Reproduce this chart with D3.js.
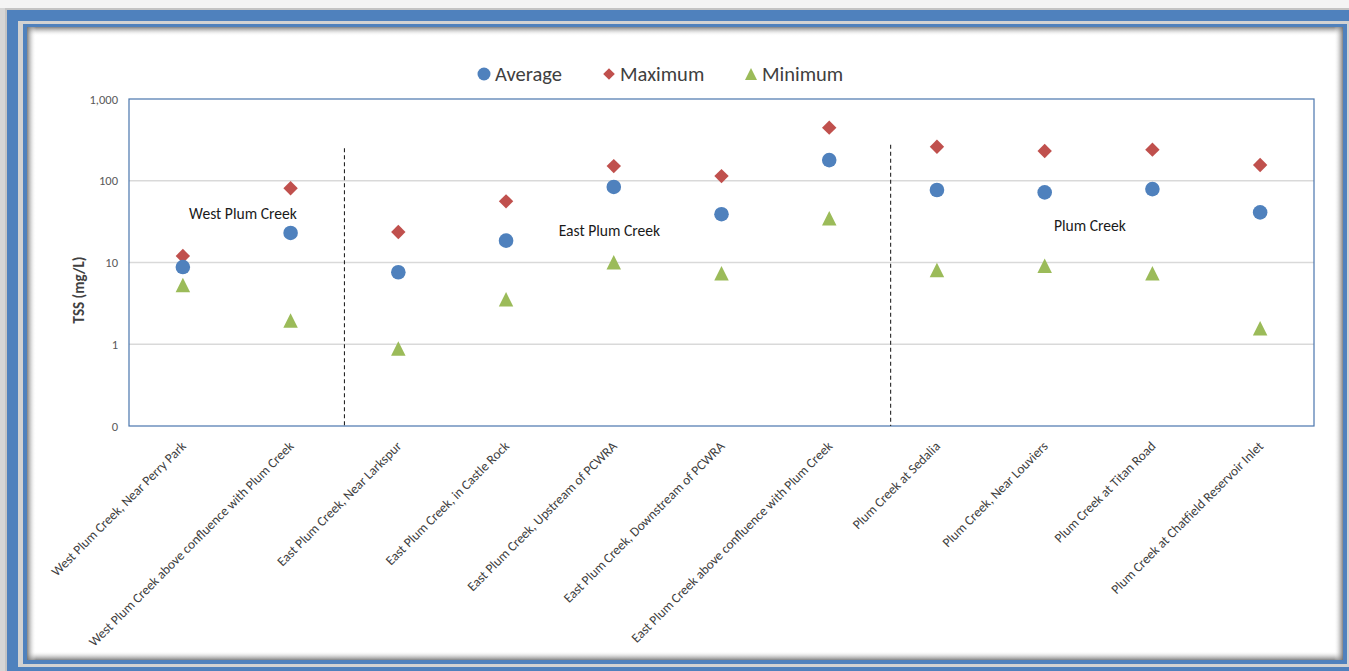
<!DOCTYPE html>
<html>
<head>
<meta charset="utf-8">
<script src="https://cdn.jsdelivr.net/npm/d3@7"></script>
<style>
  html, body { margin: 0; padding: 0; background: #f4f4f4; }
  svg { display: block; }
  text { font-family: Carlito, Lato, "Open Sans", sans-serif; }
</style>
</head>
<body>
<svg id="chart" width="1349" height="671"></svg>
<script>
// Sampling sites along the Plum Creek system
const categories = [
  "West Plum Creek, Near Perry Park",
  "West Plum Creek above confluence with Plum Creek",
  "East Plum Creek, Near Larkspur",
  "East Plum Creek, in Castle Rock",
  "East Plum Creek, Upstream of PCWRA",
  "East Plum Creek, Downstream of PCWRA",
  "East Plum Creek above confluence with Plum Creek",
  "Plum Creek at Sedalia",
  "Plum Creek, Near Louviers",
  "Plum Creek at Titan Road",
  "Plum Creek at Chatfield Reservoir Inlet"
];

// Total suspended solids, mg/L
const averageTSS = [8.8, 23, 7.6, 18.5, 84, 39, 179, 77, 72, 79, 41];
const maximumTSS = [12, 81, 23.6, 56, 151, 114, 446, 261, 231, 240, 156];
const minimumTSS = [5.3, 1.95, 0.89, 3.55, 10.1, 7.4, 34.8, 8.1, 9.1, 7.4, 1.57];

const seriesNames = ["Average", "Maximum", "Minimum"];

// Log axis ticks (lowest decade shown as 0)
const yTickValues = [0.1, 1, 10, 100, 1000];
const yTickLabels = ["0", "1", "10", "100", "1,000"];

// Reach dividers (in site-index units) with their top value
const dividerIndex = [2, 7.07];
const dividerTop = [250, 275];

// Reach labels: site-index position and value of the baseline
const reachNames = ["West Plum Creek", "East Plum Creek", "Plum Creek"];
const reachIndex = [1.058, 4.46, 8.92];
const reachValue = [33.7, 21.1, 24.3];

const svg = d3.select("#chart");
const W = 1349, H = 671;

// ---------- frame ----------
const defs = svg.append("defs");
function shade(id, x1, y1, x2, y2) {
  const g = defs.append("linearGradient").attr("id", id)
    .attr("x1", x1).attr("y1", y1).attr("x2", x2).attr("y2", y2);
  g.append("stop").attr("offset", "0%").attr("stop-color", "#6e6e6e").attr("stop-opacity", 0.85);
  g.append("stop").attr("offset", "35%").attr("stop-color", "#9a9a9a").attr("stop-opacity", 0.55);
  g.append("stop").attr("offset", "100%").attr("stop-color", "#ffffff").attr("stop-opacity", 0);
}
shade("shTop", 0, 0, 0, 1);
shade("shBottom", 0, 1, 0, 0);
shade("shLeft", 0, 0, 1, 0);
shade("shRight", 1, 0, 0, 0);

svg.append("rect").attr("x", 0).attr("y", 0).attr("width", W).attr("height", H).attr("fill", "#d6d6d6");
svg.append("rect").attr("x", 0).attr("y", 0).attr("width", W).attr("height", 8).attr("fill", "#f4f4f4");
svg.append("rect").attr("x", 5).attr("y", 8).attr("width", W).attr("height", H).attr("fill", "#c4c4c4");
svg.append("rect").attr("x", 7).attr("y", 10).attr("width", W).attr("height", H).attr("fill", "#4f81bd");
svg.append("rect").attr("x", 18).attr("y", 21).attr("width", 1335).attr("height", 646).attr("fill", "#d2d2d2");
svg.append("rect").attr("x", 23).attr("y", 24).attr("width", 1324).attr("height", 640).attr("fill", "#4f81bd");
const px0 = 27, py0 = 27, px1 = 1343, py1 = 660;
svg.append("rect").attr("x", px0).attr("y", py0).attr("width", px1 - px0).attr("height", py1 - py0).attr("fill", "#ffffff");
const sw = 9;
svg.append("rect").attr("x", px0).attr("y", py0).attr("width", px1 - px0).attr("height", sw).attr("fill", "url(#shTop)");
svg.append("rect").attr("x", px0).attr("y", py1 - sw).attr("width", px1 - px0).attr("height", sw).attr("fill", "url(#shBottom)");
svg.append("rect").attr("x", px0).attr("y", py0).attr("width", sw).attr("height", py1 - py0).attr("fill", "url(#shLeft)");
svg.append("rect").attr("x", px1 - sw).attr("y", py0).attr("width", sw).attr("height", py1 - py0).attr("fill", "url(#shRight)");

// ---------- scales ----------
const plot = { left: 129, right: 1314, top: 99, bottom: 426 };
const x = d3.scaleBand().domain(categories).range([plot.left, plot.right]).padding(0);
const xi = d3.scaleLinear().domain([0, categories.length]).range([plot.left, plot.right]);
const y = d3.scaleLog().domain([0.1, 1000]).range([plot.bottom, plot.top]);
const cx = c => x(c) + x.bandwidth() / 2;

// gridlines
svg.append("g").selectAll("line")
  .data(yTickValues.slice(1, -1))
  .join("line")
  .attr("x1", plot.left).attr("x2", plot.right)
  .attr("y1", d => y(d)).attr("y2", d => y(d))
  .attr("stroke", "#d9d9d9").attr("stroke-width", 1.3);

// plot border
svg.append("rect")
  .attr("x", plot.left).attr("y", plot.top)
  .attr("width", plot.right - plot.left).attr("height", plot.bottom - plot.top)
  .attr("fill", "none").attr("stroke", "#4a76ad").attr("stroke-width", 1.2);

// y axis
const yAxis = d3.axisLeft(y)
  .tickValues(yTickValues)
  .tickFormat((d, i) => yTickLabels[i])
  .tickSize(0).tickPadding(11);
const gy = svg.append("g").attr("transform", `translate(${plot.left},0)`).call(yAxis);
gy.select(".domain").remove();
gy.selectAll("text").attr("font-size", 12.5).attr("fill", "#595959")
  .style("font-family", "Carlito, Lato, sans-serif");

svg.append("text")
  .attr("transform", `translate(84, 290) rotate(-90)`)
  .attr("text-anchor", "middle")
  .attr("font-size", 15).attr("font-weight", "bold").attr("fill", "#404040")
  .text("TSS (mg/L)");

// x axis labels (rotated)
const xAxis = d3.axisBottom(x).tickSize(0).tickPadding(0);
const gx = svg.append("g").attr("transform", `translate(0,${plot.bottom})`).call(xAxis);
gx.select(".domain").remove();
gx.selectAll("text")
  .attr("font-size", 13.4).attr("fill", "#404040")
  .style("font-family", "Carlito, Lato, sans-serif")
  .attr("text-anchor", "end")
  .attr("y", 0).attr("dy", 0)
  .attr("transform", "translate(4,21) rotate(-45)");

// reach dividers
svg.append("g").selectAll("line")
  .data(dividerIndex)
  .join("line")
  .attr("x1", d => xi(d)).attr("x2", d => xi(d))
  .attr("y1", (d, i) => y(dividerTop[i])).attr("y2", plot.bottom)
  .attr("stroke", "#262626").attr("stroke-width", 1.1)
  .attr("stroke-dasharray", "4,3");

// reach labels
svg.append("g").selectAll("text")
  .data(reachNames)
  .join("text")
  .attr("x", (d, i) => xi(reachIndex[i]))
  .attr("y", (d, i) => y(reachValue[i]))
  .attr("text-anchor", "middle")
  .attr("font-size", 15.6).attr("fill", "#1a1a1a")
  .text(d => d);

// ---------- markers ----------
const colors = { Average: "#4f81bd", Maximum: "#c0504d", Minimum: "#9bbb59" };
const circlePath = r => `M${-r},0A${r},${r} 0 1,0 ${r},0A${r},${r} 0 1,0 ${-r},0Z`;
const diamondPath = h => `M0,${-h}L${h},0L0,${h}L${-h},0Z`;
const trianglePath = s => `M0,${-s / 2}L${s / 2},${s / 2}L${-s / 2},${s / 2}Z`;

const layer = svg.append("g");
layer.selectAll("path.max")
  .data(categories.map((c, i) => ({ c, v: maximumTSS[i] })))
  .join("path").attr("class", "max")
  .attr("d", diamondPath(7.2))
  .attr("transform", d => `translate(${cx(d.c)},${y(d.v)})`)
  .attr("fill", colors.Maximum);
layer.selectAll("path.avg")
  .data(categories.map((c, i) => ({ c, v: averageTSS[i] })))
  .join("path").attr("class", "avg")
  .attr("d", circlePath(7.3))
  .attr("transform", d => `translate(${cx(d.c)},${y(d.v)})`)
  .attr("fill", colors.Average);
layer.selectAll("path.min")
  .data(categories.map((c, i) => ({ c, v: minimumTSS[i] })))
  .join("path").attr("class", "min")
  .attr("d", trianglePath(14.5))
  .attr("transform", d => `translate(${cx(d.c)},${y(d.v)})`)
  .attr("fill", colors.Minimum);

// ---------- legend ----------
const legendX = [484, 609, 751];
const legendMarks = [circlePath(6.5), diamondPath(5.8), trianglePath(12)];
const lg = svg.append("g");
seriesNames.forEach((name, i) => {
  lg.append("path").attr("d", legendMarks[i])
    .attr("transform", `translate(${legendX[i]},74)`)
    .attr("fill", colors[name]);
  lg.append("text").attr("x", legendX[i] + 11).attr("y", 81)
    .attr("font-size", 20.5).attr("fill", "#404040").text(name);
});
</script>
</body>
</html>
